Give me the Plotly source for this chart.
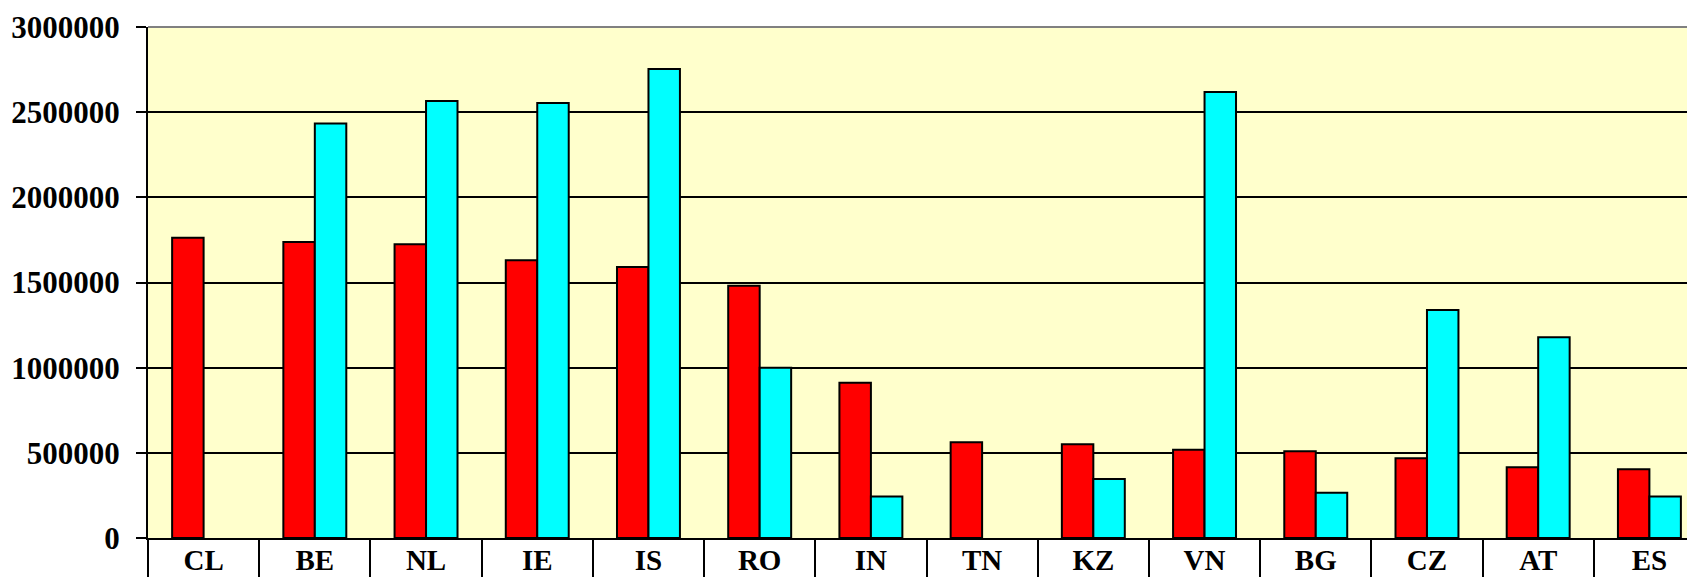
import plotly.graph_objects as go

categories = ["CL", "BE", "NL", "IE", "IS", "RO", "IN", "TN", "KZ", "VN", "BG", "CZ", "AT", "ES"]
series_red = [1763000, 1738000, 1725000, 1631000, 1591000, 1481000, 912000, 562000, 550000, 518000, 509000, 468000, 415000, 404000]
series_cyan = [None, 2433000, 2566000, 2554000, 2754000, 1000000, 243000, None, 347000, 2619000, 266000, 1339000, 1178000, 243000]
y_ticks = [0, 500000, 1000000, 1500000, 2000000, 2500000, 3000000]

x = list(range(len(categories)))

fig = go.Figure()
fig.add_trace(go.Bar(x=x, y=series_red, marker=dict(color="#FF0000", line=dict(color="black", width=2)), showlegend=False))
fig.add_trace(go.Bar(x=x, y=series_cyan, marker=dict(color="#00FFFF", line=dict(color="black", width=2)), showlegend=False))

font_family = "Liberation Serif, Times New Roman, serif"

fig.update_layout(
    width=1687, height=569,
    margin=dict(l=140, r=0, t=19, b=39, autoexpand=False),
    paper_bgcolor="white",
    plot_bgcolor="#FFFFCC",
    barmode="group",
    bargap=0.434,
    bargroupgap=0,
    xaxis=dict(
        automargin=False,
        range=[-0.5, len(categories) - 0.5 - 0.09],
        tickmode="array", tickvals=x, ticktext=categories,
        ticks="", showgrid=False, zeroline=False,
        showline=True, linecolor="black", linewidth=2,
        tickfont=dict(family=font_family, size=29, color="black", weight="bold"),
        ticklabelstandoff=-5,
        minor=dict(tickmode="linear", tick0=0.5, dtick=1, ticks="outside", ticklen=45,
                   tickwidth=2, tickcolor="black", showgrid=False),
    ),
    yaxis=dict(
        automargin=False,
        range=[0, 3000000],
        tickmode="array", tickvals=y_ticks, tickformat="d",
        ticks="outside", ticklen=10, tickwidth=2, tickcolor="black",
        showgrid=True, gridcolor="black", gridwidth=2,
        zeroline=False,
        showline=True, linecolor="black", linewidth=2,
        tickfont=dict(family=font_family, size=31, color="black", weight="bold"),
        ticklabelstandoff=10,
    ),
    shapes=[dict(type="line", xref="paper", yref="paper", x0=0, x1=1, y0=1, y1=1,
                 line=dict(color="#808080", width=2), layer="above")],
)

fig.write_html("out.html")
